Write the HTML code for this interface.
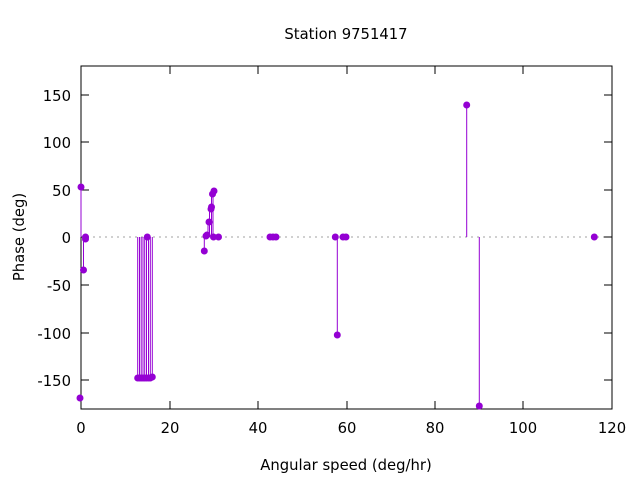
<!DOCTYPE html>
<html><head><style>body{margin:0;background:#fff}svg{display:block}text{font-family:"DejaVu Sans","Liberation Sans",sans-serif;font-size:14.8px;fill:#000}</style></head><body>
<svg width="640" height="480" viewBox="0 0 640 480">
<line x1="81" y1="237" x2="612" y2="237" stroke="#a0a0a0" stroke-dasharray="2,4"/>
<g stroke="#000" stroke-width="1">
<rect x="81" y="66" width="531" height="343" fill="none"/>
<path d="M81 95h8M612 95h-8M81 142h8M612 142h-8M81 190h8M612 190h-8M81 237h8M612 237h-8M81 285h8M612 285h-8M81 333h8M612 333h-8M81 380h8M612 380h-8"/>
<path d="M81 409v-8M81 66v8M170 409v-8M170 66v8M258 409v-8M258 66v8M347 409v-8M347 66v8M435 409v-8M435 66v8M523 409v-8M523 66v8M612 409v-8M612 66v8"/>
</g>
<g text-anchor="end"><text x="71" y="101">150</text><text x="71" y="148">100</text><text x="71" y="196">50</text><text x="71" y="243">0</text><text x="71" y="291">-50</text><text x="71" y="339">-100</text><text x="71" y="386">-150</text></g>
<g text-anchor="middle"><text x="81" y="433">0</text><text x="170" y="433">20</text><text x="258" y="433">40</text><text x="347" y="433">60</text><text x="435" y="433">80</text><text x="523" y="433">100</text><text x="612" y="433">120</text>
<text x="346" y="39">Station 9751417</text><text x="346" y="470">Angular speed (deg/hr)</text>
<text transform="translate(24,237) rotate(-90)">Phase (deg)</text></g>
<g stroke="#9400d3" stroke-width="1">
<path d="M81 237V187M83.5 237V270M85.5 237V239M137.7 237V378M139.5 237V378M141.2 237V378M143 237V378M144.7 237V378M146.5 237V378M148.5 237V378M150.3 237V378M152.3 237V377M204.3 237V251M206 237V236M208 237V222M209.5 237V207M211.5 237V194M213 237V191M335.3 237V237M337.3 237V334M466.7 237V105M479.3 237V406"/>
</g>
<g fill="#9400d3">
<circle cx="81" cy="187" r="3.5"/><circle cx="80" cy="398" r="3.5"/><circle cx="83.5" cy="270" r="3.5"/><circle cx="85.5" cy="237" r="3.5"/><circle cx="85.5" cy="239" r="3.5"/>
<circle cx="137.7" cy="378" r="3.5"/><circle cx="139.5" cy="378" r="3.5"/><circle cx="141.2" cy="378" r="3.5"/><circle cx="143" cy="378" r="3.5"/><circle cx="144.7" cy="378" r="3.5"/><circle cx="146.5" cy="378" r="3.5"/><circle cx="148.5" cy="378" r="3.5"/><circle cx="150.3" cy="378" r="3.5"/><circle cx="152.3" cy="377" r="3.5"/><circle cx="147.3" cy="237" r="3.5"/>
<circle cx="204.3" cy="251" r="3.5"/><circle cx="206" cy="236" r="3.5"/><circle cx="207" cy="235" r="3.5"/><circle cx="209" cy="222" r="3.5"/><circle cx="211" cy="209" r="3.5"/><circle cx="211.5" cy="207" r="3.5"/><circle cx="212.5" cy="194" r="3.5"/><circle cx="214" cy="191" r="3.5"/><circle cx="213.5" cy="237" r="3.5"/><circle cx="218.5" cy="237" r="3.5"/>
<circle cx="270" cy="237" r="3.5"/><circle cx="273" cy="237" r="3.5"/><circle cx="276" cy="237" r="3.5"/>
<circle cx="335.3" cy="237" r="3.5"/><circle cx="337.3" cy="335" r="3.5"/><circle cx="343" cy="237" r="3.5"/><circle cx="346" cy="237" r="3.5"/>
<circle cx="466.7" cy="105" r="3.5"/><circle cx="479.3" cy="406" r="3.5"/><circle cx="594.3" cy="237" r="3.5"/>
</g>
</svg>
</body></html>
